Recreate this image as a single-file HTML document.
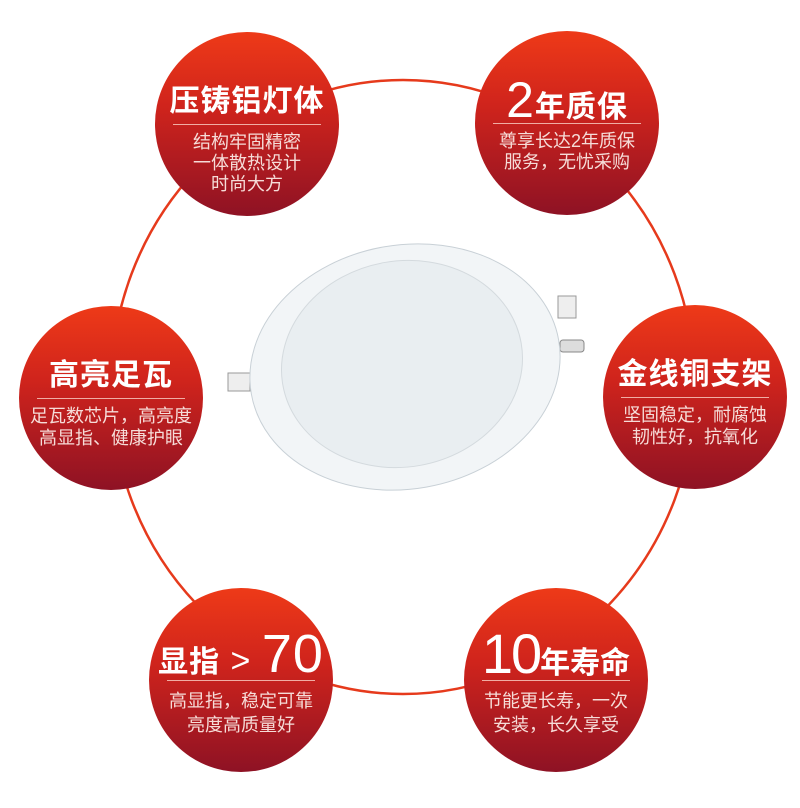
<!DOCTYPE html>
<html><head><meta charset="utf-8"><style>
body{margin:0;width:800px;height:808px;background:#fff;overflow:hidden;position:relative;font-family:"Liberation Sans","Noto Sans CJK SC",sans-serif}
.c{position:absolute;width:184px;height:184px;margin:-92px 0 0 -92px;border-radius:50%;background:linear-gradient(#ee3a18 0%,#d0241c 40%,#8e1224 100%);color:#fff;text-align:center}
.t{position:absolute;left:0;right:0;top:50px;height:40px;line-height:40px;font-size:30px;font-weight:bold;letter-spacing:1px;white-space:nowrap}
.l{position:absolute;left:18px;right:18px;top:92px;height:1px;background:rgba(255,220,210,.75)}
.s{position:absolute;left:0;right:0;top:100px;font-size:18px;line-height:21px;color:#f6dcd8;white-space:nowrap}
.s2{line-height:22px;top:99px}
.big{font-weight:normal;font-size:50px}
</style></head><body>
<svg width="800" height="808" style="position:absolute;left:0;top:0">
<ellipse cx="403" cy="387" rx="292" ry="307" fill="none" stroke="#e63a1c" stroke-width="2.5"/>
<rect x="228" y="373" width="22" height="18" fill="#eee" stroke="#999"/>
<rect x="558" y="296" width="18" height="22" fill="#eee" stroke="#999"/>
<rect x="560" y="340" width="24" height="12" rx="3" fill="#ddd" stroke="#888"/>
<ellipse cx="405" cy="367" rx="156" ry="122" fill="#f2f5f7" stroke="#c8d0d6" transform="rotate(-10 405 367)"/>
<ellipse cx="402" cy="364" rx="121" ry="103" fill="#e9eef1" stroke="#d4dade" transform="rotate(-10 402 364)"/>
</svg>
<div class="c" style="left:247px;top:124px"><div class="t">压铸铝灯体</div><div class="l"></div><div class="s">结构牢固精密<br>一体散热设计<br>时尚大方</div></div>
<div class="c" style="left:567px;top:123px"><div class="t" style="top:44px;height:50px;line-height:50px"><span class="big">2</span>年质保</div><div class="l"></div><div class="s">尊享长达2年质保<br>服务，无忧采购</div></div>
<div class="c" style="left:111px;top:398px"><div class="t">高亮足瓦</div><div class="l"></div><div class="s s2">足瓦数芯片，高亮度<br>高显指、健康护眼</div></div>
<div class="c" style="left:695px;top:397px"><div class="t">金线铜支架</div><div class="l"></div><div class="s s2">坚固稳定，耐腐蚀<br>韧性好，抗氧化</div></div>
<div class="c" style="left:241px;top:680px"><div class="t" style="top:38px;height:56px;line-height:56px">显指<span style="font-weight:normal;font-size:34px"> &gt; </span><span class="big" style="font-size:54px">70</span></div><div class="l"></div><div class="s s2" style="top:101px;line-height:24px">高显指，稳定可靠<br>亮度高质量好</div></div>
<div class="c" style="left:556px;top:680px"><div class="t" style="top:38px;height:56px;line-height:56px;letter-spacing:0"><span class="big" style="font-size:56px;letter-spacing:-2px">10</span>年寿命</div><div class="l"></div><div class="s s2" style="top:101px;line-height:24px">节能更长寿，一次<br>安装，长久享受</div></div>
</body></html>
